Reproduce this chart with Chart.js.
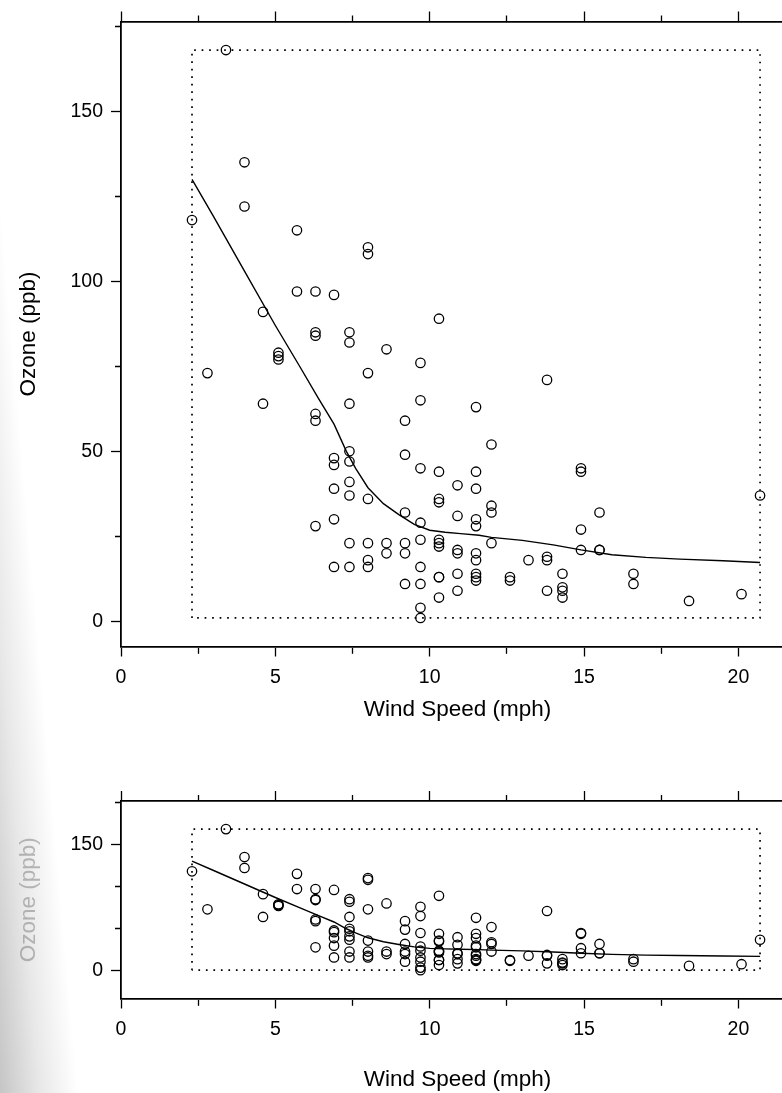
<!DOCTYPE html>
<html>
<head>
<meta charset="utf-8">
<script src="https://cdn.jsdelivr.net/npm/chart.js@4.4.1/dist/chart.umd.min.js"></script>
<style>
  html, body { margin: 0; padding: 0; width: 782px; height: 1093px; overflow: hidden; background: #fff; }
  #shade {
    position: absolute; left: 0; top: 0; width: 160px; height: 1093px;
    background: linear-gradient(85deg, rgba(140,140,140,0.5) 0px, rgba(140,140,140,0.2) 40px, rgba(140,140,140,0) 78px);
  }
  canvas { position: absolute; left: 0; }
  #topPanel { top: 0; }
  #bottomPanel { top: 740px; }
</style>
</head>
<body>
<div id="shade"></div>
<canvas id="topPanel" width="820" height="740"></canvas>
<canvas id="bottomPanel" width="820" height="353"></canvas>
<script>
// Daily observations: wind speed (mph) and ozone concentration (ppb)
const windSpeed = [7.4, 8.0, 12.6, 11.5, 8.6, 13.8, 20.1, 9.7, 9.2, 10.9, 13.2, 11.5, 12.0, 18.4, 11.5, 9.7,
  9.7, 16.6, 9.7, 12.0, 12.0, 14.9, 5.7, 7.4, 9.7, 13.8, 11.5, 8.0, 14.9, 20.7, 9.2, 11.5, 10.3, 4.0, 9.2, 9.2,
  4.6, 10.9, 5.1, 6.3, 5.7, 7.4, 14.3, 14.9, 14.3, 6.9, 10.3, 6.3, 5.1, 11.5, 6.9, 8.6, 8.0, 8.6, 12.0, 7.4,
  7.4, 7.4, 9.2, 6.9, 13.8, 7.4, 4.0, 10.3, 8.0, 11.5, 11.5, 9.7, 10.3, 6.3, 7.4, 10.9, 10.3, 15.5, 14.3, 9.7,
  3.4, 8.0, 9.7, 2.3, 6.3, 6.3, 6.9, 5.1, 2.8, 4.6, 7.4, 15.5, 10.9, 10.3, 10.9, 9.7, 14.9, 15.5, 6.3, 10.9,
  11.5, 6.9, 13.8, 10.3, 10.3, 8.0, 12.6, 9.2, 10.3, 10.3, 16.6, 6.9, 14.3, 8.0, 11.5];
const ozone = [41, 36, 12, 18, 23, 19, 8, 16, 11, 14, 18, 14, 34, 6, 30, 11, 1, 11, 4, 32, 23, 45, 115, 37,
  29, 71, 39, 23, 21, 37, 20, 12, 13, 135, 49, 32, 64, 40, 77, 97, 97, 85, 10, 27, 7, 48, 35, 61, 79, 63, 16,
  80, 108, 20, 52, 82, 50, 64, 59, 39, 9, 16, 122, 89, 110, 44, 28, 65, 22, 59, 23, 31, 44, 21, 9, 45, 168, 73,
  76, 118, 84, 85, 96, 78, 73, 91, 47, 32, 20, 23, 21, 24, 44, 21, 28, 9, 13, 46, 18, 13, 24, 16, 13, 23, 36,
  7, 14, 30, 14, 18, 20];

// Smooth (loess) curve of ozone against wind speed
const fitWind  = [2.3, 3.0, 4.0, 5.0, 5.8, 6.4, 6.9, 7.3, 7.6, 8.0, 8.5, 9.0, 9.5, 10.0, 10.5, 11.0, 11.6, 12.0, 13.0, 14.0, 14.9, 15.9, 17.0, 18.1, 19.5, 20.7];
const fitOzone = [130, 119, 103, 87, 74.8, 65.5, 58, 50, 45, 39.3, 34.6, 31.4, 28.5, 26.8, 26.2, 25.8, 25.3, 24.7, 23.8, 22.5, 21.0, 19.6, 18.8, 18.3, 17.8, 17.3];

// Axis ticks and their labels
const xTickValues = [0, 2.5, 5, 7.5, 10, 12.5, 15, 17.5, 20];
const xTickLabels = [0, 5, 10, 15, 20];
const topYTickValues = [0, 25, 50, 75, 100, 125, 150, 175];
const topYTickLabels = [0, 50, 100, 150];
const bottomYTickValues = [0, 50, 100, 150, 200];
const bottomYTickLabels = [0, 150];
const xTitle = 'Wind Speed (mph)';
const yTitle = 'Ozone (ppb)';

const FONT = '"Liberation Sans", Arial, Helvetica, sans-serif';
const LONG = 10, SHORT = 6;

Chart.defaults.font.family = FONT;
Chart.defaults.color = '#000';

function minOf(a) { return Math.min.apply(null, a); }
function maxOf(a) { return Math.max.apply(null, a); }

// dotted frame around the range of the data
const wMin = minOf(windSpeed), wMax = maxOf(windSpeed);
const oMin = minOf(ozone), oMax = maxOf(ozone);
const rangeBox = [
  { x: wMin, y: oMin }, { x: wMin, y: oMax }, { x: wMax, y: oMax }, { x: wMax, y: oMin }, { x: wMin, y: oMin }
];

// unlabeled ticks are drawn shorter, on the side that touches the axis line
function tickDash(labelled, fromAxis) {
  return (ctx) => {
    const v = ctx.tick ? ctx.tick.value : null;
    if (v === null || labelled.includes(v)) return [];
    return fromAxis ? [SHORT, 100] : [0, LONG - SHORT, SHORT, 100];
  };
}

function setTicks(values) {
  return (scale) => { scale.ticks = values.map(v => ({ value: v })); };
}

function makePanel(id, p) {
  const points = windSpeed.map((w, i) => ({ x: w, y: ozone[i] }));
  const curve = fitWind.map((w, i) => ({ x: w, y: fitOzone[i] }));
  const grid = { drawOnChartArea: false, tickLength: LONG, tickWidth: 1.3, tickColor: '#000' };
  const border = { display: true, color: '#000', width: 1.8 };
  return new Chart(document.getElementById(id), {
    type: 'scatter',
    data: {
      datasets: [
        { data: points, pointStyle: 'circle', pointRadius: 4.7, pointHoverRadius: 4.7,
          borderWidth: 1.3, borderColor: '#000', backgroundColor: 'rgba(0,0,0,0)' },
        { data: curve, showLine: true, pointRadius: 0, borderColor: '#000', borderWidth: 1.4, tension: 0, fill: false },
        { data: rangeBox, showLine: true, pointRadius: 0, borderColor: '#000', borderWidth: 1.7,
          borderDash: [1.7, 5.8], borderCapStyle: 'butt', tension: 0, fill: false }
      ]
    },
    options: {
      responsive: false,
      animation: false,
      events: [],
      layout: { padding: { left: 0, right: 26, top: p.padTop, bottom: p.padBottom } },
      plugins: { legend: { display: false }, tooltip: { enabled: false } },
      scales: {
        x: {
          type: 'linear', position: 'bottom', min: 0, max: 21.8,
          afterBuildTicks: setTicks(xTickValues),
          afterFit: (s) => { s.height = p.xAxisHeight; },
          grid: Object.assign({}, grid, { tickBorderDash: tickDash(xTickLabels, true) }),
          border: border,
          ticks: { padding: 9, font: { size: 19.5 }, color: '#000', maxRotation: 0, autoSkip: false,
                   callback: (v) => xTickLabels.includes(v) ? String(v) : '' },
          title: { display: true, text: xTitle, font: { size: 22.5 }, color: '#000',
                   padding: { top: 0, bottom: p.xTitlePad } }
        },
        xTop: {
          type: 'linear', position: 'top', min: 0, max: 21.8,
          afterBuildTicks: setTicks(xTickValues),
          afterFit: (s) => { s.height = 12; },
          grid: Object.assign({}, grid, { tickBorderDash: tickDash(xTickLabels, false) }),
          border: border,
          ticks: { display: false }
        },
        y: {
          type: 'linear', position: 'left', min: p.yMin, max: p.yMax,
          afterBuildTicks: setTicks(p.yTicks),
          afterFit: (s) => { s.width = 121; },
          grid: Object.assign({}, grid, { tickBorderDash: tickDash(p.yLabels, false) }),
          border: border,
          ticks: { padding: 8, font: { size: 19.5 }, color: '#000', autoSkip: false,
                   callback: (v) => p.yLabels.includes(v) ? String(v) : '' },
          title: { display: true, text: yTitle, font: { size: 22.5 }, color: p.yTitleColor,
                   padding: { top: 15, bottom: 0 } }
        }
      }
    }
  });
}

makePanel('topPanel', {
  padTop: 9.5, padBottom: 3.5, xAxisHeight: 90, xTitlePad: 13,
  yMin: -7.4, yMax: 176.4, yTicks: topYTickValues, yLabels: topYTickLabels, yTitleColor: '#000'
});

makePanel('bottomPanel', {
  padTop: 49, padBottom: 0, xAxisHeight: 94.5, xTitlePad: 0,
  yMin: -32.6, yMax: 201.3, yTicks: bottomYTickValues, yLabels: bottomYTickLabels, yTitleColor: 'rgba(120,120,120,0.5)'
});
</script>
</body>
</html>
